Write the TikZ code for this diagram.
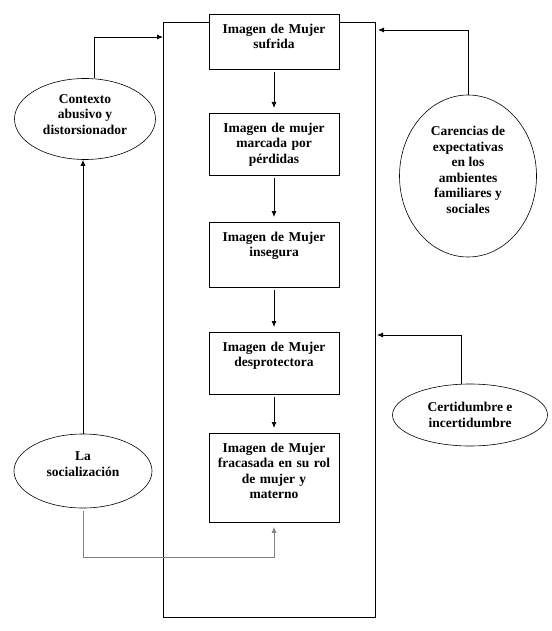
\documentclass[tikz,border=0pt]{standalone}
\usepackage{fontspec}
\setmainfont{Liberation Serif}
\usetikzlibrary{arrows.meta,shapes.geometric,positioning}

\newcommand{\letra}{\bfseries\fontsize{13.5}{15.5}\selectfont}
\tikzset{
  caja/.style={draw, fill=white, line width=0.8pt, text width=124pt, inner xsep=3pt, inner ysep=4pt, align=center, anchor=north, text height=15pt, font=\letra},
  nube/.style={draw, ellipse, line width=0.6pt, inner sep=0pt, align=center, font=\letra},
  flecha/.style={-{Latex[length=6pt,width=5pt]}, line width=0.8pt},
}

\begin{document}
\begin{tikzpicture}[x=1pt,y=-1pt]
\useasboundingbox (0,0) rectangle (551,631);

%% marco
\node[draw, line width=0.8pt, minimum width=212pt, minimum height=595pt, inner sep=0pt] (marco) at (269,319.5) {};

%% cajas
\node[caja, text depth=32pt] (b1) at (274,14) {Imagen de Mujer\\ sufrida};
\node[caja, text depth=39pt] (b2) at (274,113) {Imagen de mujer\\ marcada por\\ pérdidas};
\node[caja, text depth=42pt] (b3) at (274,222) {Imagen de Mujer\\ insegura};
\node[caja, text depth=39pt] (b4) at (274,332) {Imagen de Mujer\\ desprotectora};
\node[caja, text depth=66pt] (b5) at (274,433) {Imagen de Mujer\\ fracasada en su rol\\ de mujer y\\ materno};

\foreach \a/\b in {b1/b2,b2/b3,b3/b4,b4/b5}
  \draw[flecha, shorten <=2pt, shorten >=5pt] (\a.south) -- (\b.north);

%% elipses
\node[nube, minimum width=141pt, minimum height=81pt, text depth=9pt] (ctx) at (85,119) {Contexto\\ abusivo y\\ distorsionador};
\node[nube, minimum width=137pt, minimum height=162pt, text depth=12pt] (car) at (468,176) {Carencias de\\ expectativas\\ en los\\ ambientes\\ familiares y\\ sociales};
\node[nube, minimum width=155pt, minimum height=62pt] (cer) at (470,415) {Certidumbre e\\ incertidumbre};
\node[nube, minimum width=138pt, minimum height=74pt, text depth=14pt] (soc) at (83,471) {La\\ socialización};

\coordinate (entctx) at (163,37);
\coordinate (entcar) at (375,30);
\coordinate (entcer) at (375,335);
\coordinate (codo) at (83,557);

%% conectores
\draw[flecha] ([xshift=9pt]ctx.north) |- (entctx);
\draw[flecha, shorten >=3pt] (car.north) |- (entcar);
\draw[flecha, shorten >=2pt] ([xshift=-9pt]cer.north) |- (entcer);
\draw[flecha] (soc.north) -- (soc.north |- ctx.south);
\draw[flecha, gray, line width=1pt, shorten <=3pt, shorten >=4pt] (soc.south) -- (codo) -| (b5.south);

\end{tikzpicture}
\end{document}
